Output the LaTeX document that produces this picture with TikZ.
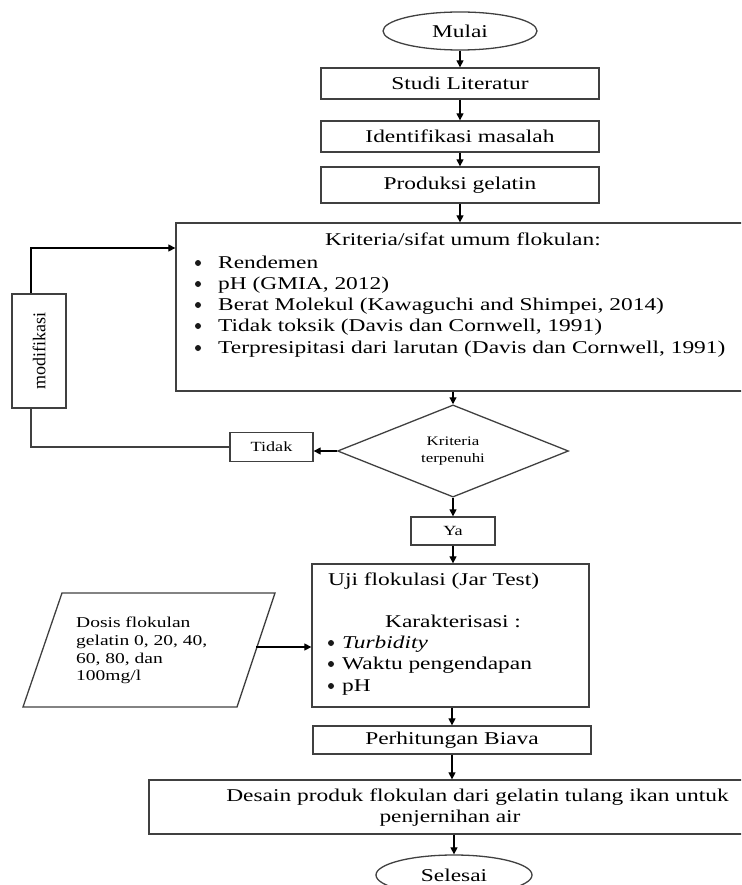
\documentclass[tikz,border=0pt]{standalone}
\usepackage{fontspec}
\setmainfont{Liberation Serif}[FakeStretch=1.3]
\newfontfamily\plainserif{Liberation Serif}
\usetikzlibrary{shapes.geometric,arrows.meta,calc}
\begin{document}
\begin{tikzpicture}[x=1pt,y=-1pt,
  box/.style={draw=black!75, line width=1.3pt, rectangle, inner sep=0pt},
  arr/.style={draw=black, line width=1.2pt, -{Triangle[length=7pt,width=7pt]}},
  ln/.style={draw=black!75, line width=1.3pt},
  txt/.style={font=\fontsize{18}{21}\selectfont, inner sep=0pt},
  small/.style={font=\fontsize{14}{17}\selectfont, inner sep=0pt},
  dot/.style={circle, fill=black!90, inner sep=0pt, minimum size=6pt},
]
\useasboundingbox (0,0) rectangle (741,885);
\clip (0,0) rectangle (741,885);

% main column
\node[box, ellipse, minimum width=154, minimum height=38, txt] (mulai) at (460,31) {Mulai};
\node[box, minimum width=278, minimum height=31, txt] (studi) at (460,83.5) {Studi Literatur};
\node[box, minimum width=278, minimum height=31, txt] (ident) at (460,136.5) {Identifikasi masalah};
\node[box, minimum width=278, minimum height=36, txt] (prod) at (460,185) {Produksi gelatin};

% criteria box
\node[box, minimum width=572, minimum height=168] (krit) at (462,307) {};
\node[txt] (kt) at (463,239) {Kriteria/sifat umum flokulan:};
\node[txt, anchor=base west] (k1) at (218,268) {Rendemen};
\node[txt, anchor=base west] (k2) at (218,289) {pH (GMIA, 2012)};
\node[txt, anchor=base west] (k3) at (218,310) {Berat Molekul (Kawaguchi and Shimpei, 2014)};
\node[txt, anchor=base west] (k4) at (218,331) {Tidak toksik (Davis dan Cornwell, 1991)};
\node[txt, anchor=base west] (k5) at (218,353) {Terpresipitasi dari larutan (Davis dan Cornwell, 1991)};
\foreach \i/\yy in {1/263,2/284,3/305,4/326,5/348}
  \node[dot] (kb\i) at (198,\yy) {};

% decision
\node[box, diamond, minimum width=231, minimum height=89, align=center, font=\fontsize{13}{17}\selectfont] (dia) at (453,451) {Kriteria\\terpenuhi};
\node[box, minimum width=83, minimum height=29, small] (tidak) at (271.5,447) {Tidak};
\node[box, minimum width=114, minimum height=54, rotate=90, font=\plainserif\fontsize{18}{21}\selectfont] (modif) at (39,351) {modifikasi};
\node[box, minimum width=84, minimum height=28, small] (ya) at (453,531) {Ya};

% loop
\coordinate (lx) at (31,0);
\coordinate (lt) at (31,248);
\draw[ln] (tidak.west) -- (tidak.west -| lx) -- (lx |- modif.west);
\draw[arr] (lx |- modif.east) -- (lt) -- (lt -| krit.west);

% test box
\node[box, minimum width=277, minimum height=143] (uji) at (450.5,635.5) {};
\node[txt, anchor=west] (u1) at (328,581) {Uji flokulasi (Jar Test)};
\node[txt] (u2) at (453,621) {Karakterisasi :};
\node[txt, anchor=base west] (u3) at (342,648) {\textit{Turbidity}};
\node[txt, anchor=base west] (u4) at (342,669) {Waktu pengendapan};
\node[txt, anchor=base west] (u5) at (342,691) {pH};
\foreach \i/\yy in {3/643,4/664,5/686}
  \node[dot] (ub\i) at (331,\yy) {};

% dose parallelogram
\coordinate (d1) at (62,593);
\coordinate (d2) at (275,593);
\coordinate (d3) at (237,707);
\coordinate (d4) at (23,707);
\draw[ln] (d1) -- (d2) -- (d3) -- (d4) -- cycle;
\node[anchor=west, align=left, font=\fontsize{15}{17.7}\selectfont, inner sep=0pt] (dosis) at (76,650.5) {Dosis flokulan\\gelatin 0, 20, 40,\\60, 80, dan\\100mg/l};
\coordinate (dr) at (256,647);

% bottom
\node[box, minimum width=278, minimum height=28, txt] (perh) at (452,740) {Perhitungan Biava};
\node[box, minimum width=606, minimum height=54] (desain) at (452,807) {};
\node[txt] (de1) at (477.5,797) {Desain produk flokulan dari gelatin tulang ikan untuk};
\node[txt] (de2) at (450,818) {penjernihan air};
\node[box, ellipse, minimum width=156, minimum height=40, txt] (selesai) at (454,875) {Selesai};

% arrows
\draw[arr] (mulai.south) -- (studi.north);
\draw[arr] (studi.south) -- (ident.north);
\draw[arr] (ident.south) -- (prod.north);
\draw[arr] (prod.south) -- (prod.south |- krit.north);
\draw[arr] (dia.north |- krit.south) -- (dia.north);
\draw[arr] (dia.west) -- (dia.west -| tidak.east);
\draw[arr] (dia.south) -- (dia.south |- ya.north);
\draw[arr] (ya.south) -- (ya.south |- uji.north);
\draw[arr] (dr) -- (dr -| uji.west);
\draw[arr] (perh.north |- uji.south) -- (perh.north);
\draw[arr] (perh.south) -- (perh.south |- desain.north);
\draw[arr] (selesai.north |- desain.south) -- (selesai.north);
\end{tikzpicture}
\end{document}
